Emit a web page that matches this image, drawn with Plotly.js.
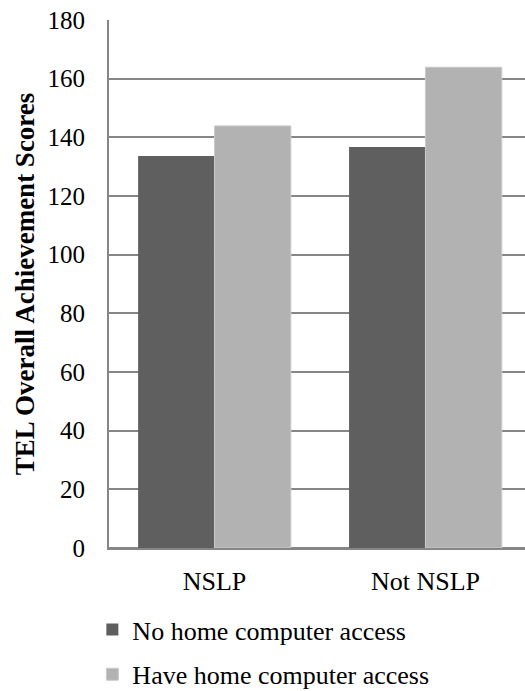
<!DOCTYPE html>
<html>
<head>
<meta charset="utf-8">
<script src="https://cdn.plot.ly/plotly-3.0.1.min.js"></script>
<style>html,body{margin:0;padding:0;background:#fff;}#chart{width:525px;height:691px;}</style>
</head>
<body>
<div id="chart"></div>
<script>
const categories = ["NSLP", "Not NSLP"];
const seriesNames = ["No home computer access", "Have home computer access"];
const noAccess = [133.6, 136.7];
const haveAccess = [143.9, 163.9];
const yTicks = [0, 20, 40, 60, 80, 100, 120, 140, 160, 180];

const font = "Liberation Serif";

const traces = [
  {
    type: 'bar', x: categories, y: noAccess, name: seriesNames[0],
    legendgroup: 'a',
    marker: {color: '#5f5f5f', line: {width: 0}}
  },
  {
    type: 'bar', x: categories, y: haveAccess, name: seriesNames[1],
    legendgroup: 'b',
    marker: {color: '#b2b2b2', line: {color: '#cacaca', width: 1}}
  }
];

const layout = {
  width: 525, height: 691,
  margin: {l: 109, r: 0, t: 20, b: 143, autoexpand: false},
  paper_bgcolor: '#fff', plot_bgcolor: '#fff',
  font: {family: font, color: '#000', size: 26},
  barmode: 'group', bargap: 0.276, bargroupgap: 0,
  showlegend: true,
  legend: {
    orientation: 'v', x: -0.04, xanchor: 'left', y: -0.11, yanchor: 'top',
    bgcolor: 'rgba(0,0,0,0)', font: {family: font, size: 26, color: '#000'},
    tracegroupgap: 8, itemwidth: 30
  },
  xaxis: {
    type: 'category', range: [-0.5, 1.472],
    showgrid: false, showline: true, linecolor: '#868686', linewidth: 2,
    ticks: '', ticklabelstandoff: 9,
    tickfont: {family: font, size: 26, color: '#000'},
    automargin: false, fixedrange: true
  },
  yaxis: {
    range: [0, 180], tickvals: yTicks, ticktext: yTicks.map(String),
    showgrid: true, gridcolor: '#868686', gridwidth: 2,
    zeroline: true, zerolinecolor: '#868686', zerolinewidth: 2,
    showline: true, linecolor: '#868686', linewidth: 2,
    ticks: '', ticklabelstandoff: 17,
    tickfont: {family: font, size: 25, color: '#000'},
    title: {text: '<b>TEL Overall Achievement Scores</b>', font: {family: font, size: 27, color: '#000'}, standoff: 5},
    automargin: false, fixedrange: true
  }
};

Plotly.newPlot('chart', traces, layout, {displayModeBar: false, staticPlot: true});
</script>
</body>
</html>
